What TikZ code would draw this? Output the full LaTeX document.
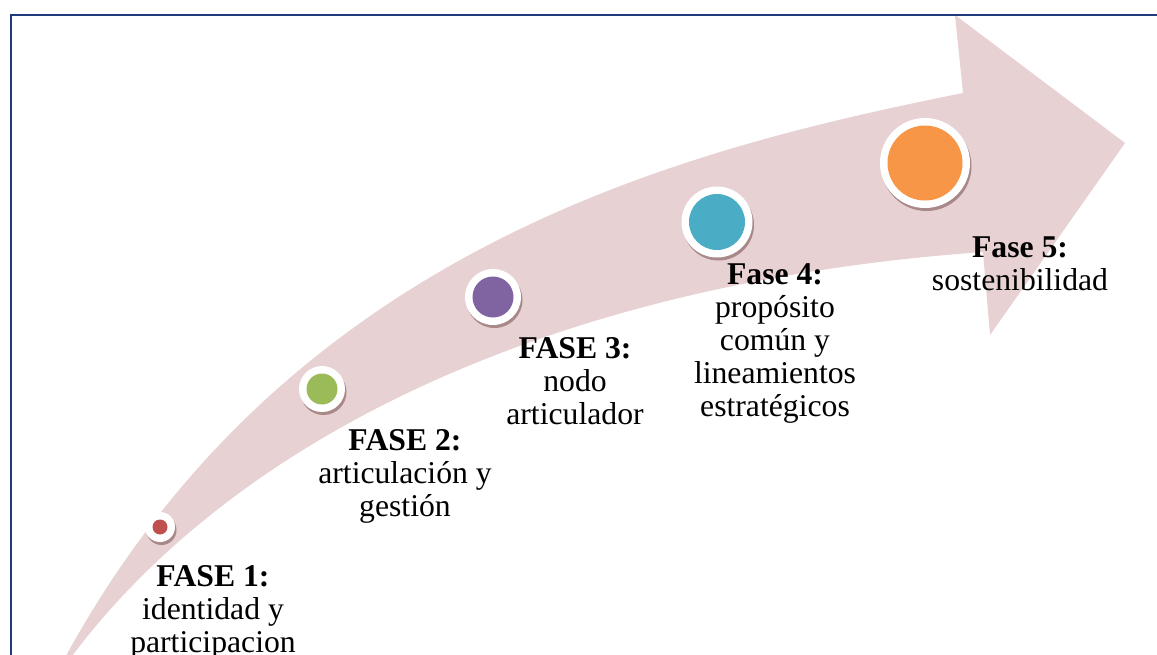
\documentclass[tikz,border=0pt]{standalone}
\usepackage{fontspec}
\setmainfont{Liberation Serif}
\usepackage{xcolor}
\usepackage{tikz}
\usetikzlibrary{shadows}
\definecolor{fspink}{RGB}{231,209,210}
\definecolor{fsnavy}{HTML}{1F3B7C}
\definecolor{fsred}{HTML}{C0504D}
\definecolor{fsgreen}{HTML}{9BBB59}
\definecolor{fspurple}{HTML}{8064A2}
\definecolor{fsblue}{HTML}{4BACC6}
\definecolor{fsorange}{HTML}{F79646}
\tikzset{
  ring/.style 2 args={circle, fill=white, inner sep=0pt, minimum size=2*#1,
                      drop shadow={shadow xshift=1.5pt, shadow yshift=-3pt, fill=black!80!red, opacity=0.35},
                      path picture={\fill[#2] (path picture bounding box.center) circle [radius=#1-7.5pt];}},
  phase/.style={align=center, anchor=base, inner sep=0pt,
                font=\fontsize{31.7}{32.8}\selectfont},
}

\begin{document}
\begin{tikzpicture}[x=1pt,y=-1pt]
\useasboundingbox (0,0) rectangle (1157,654);
\clip (0,0) rectangle (1157,654);

% the big curved arrow
\fill[fspink] (48,690) .. controls (200,460) and (520,285) .. (983,252)
  -- (990,335) -- (1125,143) -- (955,15) -- (963,93)
  .. controls (680,150) and (270,250) .. (48,690) -- cycle;

\draw[fsnavy, line width=2pt] (11,15) rectangle (1200,700);

\node[ring={15pt}{fsred}] (d1) at (160,527) {};
\node[ring={23pt}{fsgreen}] (d2) at (322,389) {};
\node[ring={28pt}{fspurple}] (d3) at (493,297) {};
\node[ring={35.5pt}{fsblue}] (d4) at (717,222) {};
\node[ring={45pt}{fsorange}] (d5) at (925,163) {};

% labels sit on the baseline of their last line
\node[phase] (f1) at (213,652) {\textbf{FASE 1:}\\identidad y\\participacion};
\node[phase] (f2) at (405,516) {\textbf{FASE 2:}\\articulación y\\gestión};
\node[phase] (f3) at (575,424) {\textbf{FASE 3:}\\nodo\\articulador};
\node[phase] (f4) at (775,416) {\textbf{Fase 4:}\\propósito\\común y\\lineamientos\\estratégicos};
\node[phase] (f5) at (1020,290) {\textbf{Fase 5:}\\sostenibilidad};
\end{tikzpicture}
\end{document}
